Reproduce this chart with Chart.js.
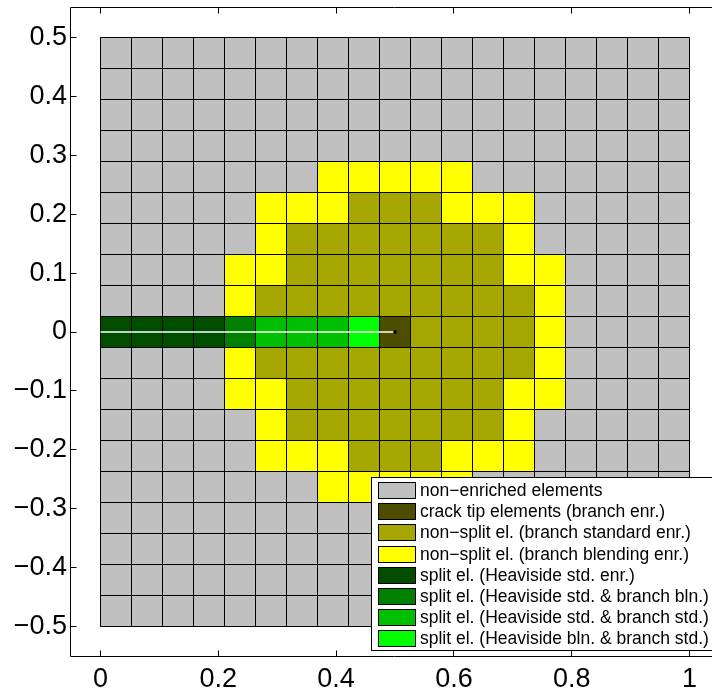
<!DOCTYPE html>
<html>
<head>
<meta charset="utf-8">
<script src="https://cdn.jsdelivr.net/npm/chart.js@4.4.1/dist/chart.umd.min.js"></script>
<style>
  html, body { margin: 0; padding: 0; overflow: hidden; background: #fff; }
  canvas { display: block; }
</style>
</head>
<body>
<canvas id="mesh" width="724" height="693" style="width:724px;height:693px"></canvas>
<script>
// 19 x 19 element mesh on [0,1] x [-0.5,0.5]; crack from x = 0 to the tip at (0.5, 0)
const N_ELEM = 19;

const categories = [
  'non\u2212enriched elements',
  'crack tip elements (branch enr.)',
  'non\u2212split el. (branch standard enr.)',
  'non\u2212split el. (branch blending enr.)',
  'split el. (Heaviside std. enr.)',
  'split el. (Heaviside std. & branch bln.)',
  'split el. (Heaviside std. & branch std.)',
  'split el. (Heaviside bln. & branch std.)'
];

const categoryColours = [
  '#c0c0c0', '#4d4d00', '#a6a600', '#ffff00',
  '#004d00', '#008000', '#00bf00', '#00ff00'
];

// element category per mesh row (top row first), one digit per element column
const meshRows = [
  '0000000000000000000',
  '0000000000000000000',
  '0000000000000000000',
  '0000000000000000000',
  '0000000333330000000',
  '0000033322233300000',
  '0000032222222300000',
  '0000332222222330000',
  '0000322222222230000',
  '4444566671222230000',
  '0000322222222230000',
  '0000332222222330000',
  '0000032222222300000',
  '0000033322233300000',
  '0000000333330000000',
  '0000000000000000000',
  '0000000000000000000',
  '0000000000000000000',
  '0000000000000000000'
];

const crackX = [0, 0.5];
const crackY = [0, 0];

const xTicks = [0, 0.2, 0.4, 0.6, 0.8, 1];
const xTickLabels = ['0', '0.2', '0.4', '0.6', '0.8', '1'];
const yTicks = [-0.5, -0.4, -0.3, -0.2, -0.1, 0, 0.1, 0.2, 0.3, 0.4, 0.5];
const yTickLabels = ['\u22120.5', '\u22120.4', '\u22120.3', '\u22120.2', '\u22120.1', '0',
                     '0.1', '0.2', '0.3', '0.4', '0.5'];

// each element becomes a floating bar: centred at its x, spanning its y range
const h = 1 / N_ELEM;
const cellSets = categories.map(() => []);
meshRows.forEach((row, r) => {
  [...row].forEach((code, c) => {
    cellSets[+code].push({ x: (c + 0.5) * h, y: [0.5 - (r + 1) * h, 0.5 - r * h] });
  });
});

// element edges: one vertical and one horizontal mesh line per node index
const meshEdges = [];
for (let k = 0; k <= N_ELEM; k++) {
  const v = k * h;
  meshEdges.push({ x: v, y: -0.5 }, { x: v, y: 0.5 }, { x: v, y: null });
  meshEdges.push({ x: 0, y: v - 0.5 }, { x: 1, y: v - 0.5 }, { x: 1, y: null });
}

const datasets = categories.map((label, k) => ({
  type: 'bar',
  label,
  data: cellSets[k],
  backgroundColor: categoryColours[k],
  borderWidth: 0,
  borderSkipped: false,
  inflateAmount: 0.5,
  grouped: false,
  barPercentage: 1,
  categoryPercentage: 1,
  order: 2
}));

datasets.push({
  type: 'line',
  label: 'element edges',
  data: meshEdges,
  borderColor: '#000',
  borderWidth: 1,
  pointRadius: 0,
  spanGaps: false,
  order: 1
});

datasets.push({
  type: 'line',
  label: 'crack',
  data: crackX.map((x, i) => ({ x, y: crackY[i] })),
  borderColor: '#ffffff',
  borderWidth: 1.5,
  pointRadius: [0, 1.8],
  pointBackgroundColor: '#000',
  pointBorderWidth: 0,
  order: 0
});

const FONT = 'Liberation Sans, Arial, Helvetica, sans-serif';
Chart.defaults.font.family = FONT;
Chart.defaults.color = '#000';

// axes box with inward tick marks on all four sides
const framePlugin = {
  id: 'frame',
  afterDraw(chart) {
    const { ctx, chartArea: a, scales: { x, y } } = chart;
    const L = Math.round(a.left) - 0.5, R = Math.round(a.right) - 0.5;
    const T = Math.round(a.top) - 0.5, B = Math.round(a.bottom) + 0.5;
    const tl = 6;
    ctx.save();
    ctx.strokeStyle = '#000';
    ctx.lineWidth = 1;
    ctx.beginPath();
    ctx.rect(L, T, R - L, B - T);
    xTicks.forEach(v => {
      const px = Math.floor(x.getPixelForValue(v)) + 0.5;
      ctx.moveTo(px, B); ctx.lineTo(px, B - tl);
      ctx.moveTo(px, T); ctx.lineTo(px, T + tl);
    });
    yTicks.forEach(v => {
      const py = Math.floor(y.getPixelForValue(v)) + 0.5;
      ctx.moveTo(L, py); ctx.lineTo(L + tl, py);
      ctx.moveTo(R, py); ctx.lineTo(R - tl, py);
    });
    ctx.stroke();
    ctx.restore();
  }
};

// legend box in the lower right of the axes, built from the bar datasets
const legendPlugin = {
  id: 'boxLegend',
  afterDraw(chart) {
    const { ctx, chartArea: a } = chart;
    const items = chart.data.datasets.filter(d => d.type === 'bar');
    const rowH = 21.2;
    const box = { x: Math.round(a.left + 300) + 0.5, y: Math.round(a.bottom - 179) + 0.5, w: 345, h: 173 };
    ctx.save();
    ctx.fillStyle = '#fff';
    ctx.fillRect(box.x, box.y, box.w, box.h);
    ctx.strokeStyle = '#000';
    ctx.lineWidth = 1;
    ctx.strokeRect(box.x, box.y, box.w, box.h);
    ctx.font = '17.5px ' + FONT;
    ctx.textBaseline = 'middle';
    ctx.textAlign = 'left';
    items.forEach((d, k) => {
      const sy = box.y + 4.5 + k * rowH;
      const ry = Math.round(sy) + 0.5;
      ctx.fillStyle = d.backgroundColor;
      ctx.fillRect(box.x + 7, ry, 37, 16);
      ctx.strokeStyle = '#000';
      ctx.strokeRect(box.x + 7, ry, 37, 16);
      ctx.fillStyle = '#000';
      ctx.fillText(d.label, box.x + 48.5, ry + 8.5);
    });
    ctx.restore();
  }
};

new Chart(document.getElementById('mesh'), {
  type: 'bar',
  data: { datasets },
  options: {
    responsive: false,
    animation: false,
    devicePixelRatio: 1,
    layout: { padding: { left: 0, right: 5.05, top: 8.05, bottom: 0 } },
    plugins: { legend: { display: false }, tooltip: { enabled: false } },
    scales: {
      x: {
        type: 'linear',
        min: -0.05,
        max: 1.05,
        offset: false,
        grid: { display: false, drawTicks: false, offset: false },
        border: { display: false },
        afterBuildTicks: s => { s.ticks = xTicks.map(v => ({ value: v })); },
        afterFit: s => { s.height = 37.05; s.paddingLeft = 0; s.paddingRight = 0; },
        ticks: {
          callback: (v, i) => xTickLabels[i],
          font: { size: 27 },
          color: '#000',
          padding: 7,
          maxRotation: 0,
          autoSkip: false
        }
      },
      y: {
        type: 'linear',
        min: -0.55,
        max: 0.55,
        beginAtZero: false,
        grid: { display: false, drawTicks: false },
        border: { display: false },
        afterBuildTicks: s => { s.ticks = yTicks.map(v => ({ value: v })); },
        afterFit: s => { s.width = 71.05; s.paddingTop = 0; s.paddingBottom = 0; },
        ticks: {
          callback: (v, i) => yTickLabels[i],
          font: { size: 27 },
          color: '#000',
          padding: 4,
          autoSkip: false
        }
      }
    }
  },
  plugins: [framePlugin, legendPlugin]
});
</script>
</body>
</html>
